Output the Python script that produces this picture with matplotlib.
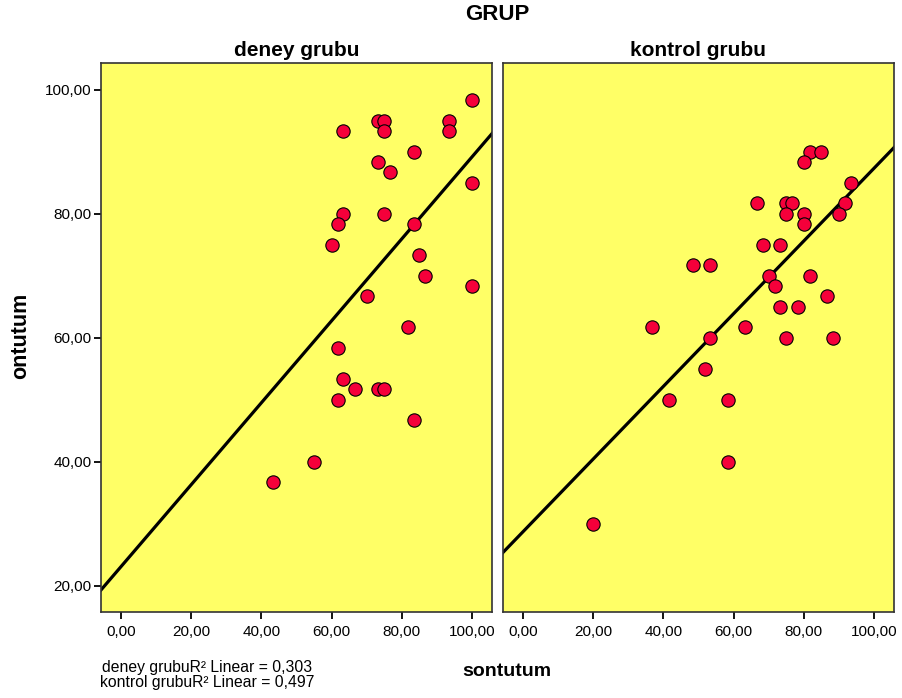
import numpy as np
import matplotlib
matplotlib.use("Agg")
import matplotlib.pyplot as plt
from matplotlib.ticker import FuncFormatter

plt.rcParams['font.family'] = ['Liberation Sans', 'DejaVu Sans']

# ---- data ----
deney_son = [100, 73.3, 75, 63.3, 75, 93.3, 93.3, 83.3, 73.3, 76.7, 100, 63.3, 75,
             61.7, 83.3, 60, 85, 86.7, 100, 70, 81.7, 61.7, 63.3, 66.7, 73.3, 75,
             61.7, 83.3, 55, 43.3]
deney_on = [98.3, 95, 95, 93.3, 93.3, 95, 93.3, 90, 88.3, 86.7, 85, 80, 80,
            78.3, 78.3, 75, 73.3, 70, 68.3, 66.7, 61.7, 58.3, 53.3, 51.7, 51.7, 51.7,
            50, 46.7, 40, 36.7]

kontrol_son = [81.7, 85, 80, 93.3, 66.7, 75, 76.7, 91.7, 75, 80, 90, 80, 68.3, 73.3,
               48.3, 53.3, 70, 81.7, 71.7, 86.7, 73.3, 78.3, 36.7, 63.3, 53.3, 75,
               88.3, 51.7, 41.7, 58.3, 58.3, 20]
kontrol_on = [90, 90, 88.3, 85, 81.7, 81.7, 81.7, 81.7, 80, 80, 80, 78.3, 75, 75,
              71.7, 71.7, 70, 70, 68.3, 66.7, 65, 65, 61.7, 61.7, 60, 60,
              60, 55, 50, 50, 40, 30]

groups = ["deney grubu", "kontrol grubu"]
r2_labels = ["0,303", "0,497"]
ticks = [0, 20, 40, 60, 80, 100]
yticks = [20, 40, 60, 80, 100]

W, H = 902, 698
fig = plt.figure(figsize=(W / 100, H / 100), dpi=100)

xlim = (-5.7, 105.65)
ylim = (15.7, 104.4)
bottom = 1 - 612.3 / H
height = (612.3 - 62.7) / H
lefts = [101 / W, 503 / W]
width = 391 / W

fmt = FuncFormatter(lambda v, p: ("%.2f" % v).replace(".", ","))
datasets = [(deney_son, deney_on), (kontrol_son, kontrol_on)]

for i, (xs, ys) in enumerate(datasets):
    ax = fig.add_axes([lefts[i], bottom, width, height])
    ax.set_facecolor('#FFFF66')
    ax.set_xlim(*xlim)
    ax.set_ylim(*ylim)
    x = np.array(xs)
    y = np.array(ys)
    b, a = np.polyfit(x, y, 1)
    xx = np.array(xlim)
    ax.plot(xx, a + b * xx, color='black', lw=2.3, zorder=2)
    ax.scatter(x, y, s=92, facecolor='#F5003A', edgecolor='black', linewidth=0.8, zorder=3)
    for sp in ax.spines.values():
        sp.set_color('#333333')
        sp.set_linewidth(1.2)
    ax.set_xticks(ticks)
    ax.xaxis.set_major_formatter(fmt)
    ax.tick_params(axis='x', length=5, width=1.3, labelsize=11, pad=4, color='black')
    if i == 0:
        ax.set_yticks(yticks)
        ax.yaxis.set_major_formatter(fmt)
        ax.tick_params(axis='y', length=5, width=1.3, labelsize=11, pad=2, color='black')
    else:
        ax.set_yticks([])
    fig.text(lefts[i] + width / 2, 1 - 51 / H, groups[i], ha='center', va='center',
             fontsize=15, fontweight='bold')

fig.text(497 / W, 1 - 14 / H, "GRUP", ha='center', va='center', fontsize=16, fontweight='bold')
fig.text(21 / W, 1 - 336 / H, "ontutum", ha='center', va='center', rotation=90,
         fontsize=15.5, fontweight='bold')
fig.text(507 / W, 1 - 672 / H, "sontutum", ha='center', va='center',
         fontsize=14, fontweight='bold')
fig.text(207 / W, 1 - 675 / H,
         "%sR² Linear = %s\n%sR² Linear = %s" % (groups[0], r2_labels[0], groups[1], r2_labels[1]),
         ha='center', va='center', multialignment='center', fontsize=11.3, linespacing=1.05)

fig.savefig("out.png", dpi=100)
